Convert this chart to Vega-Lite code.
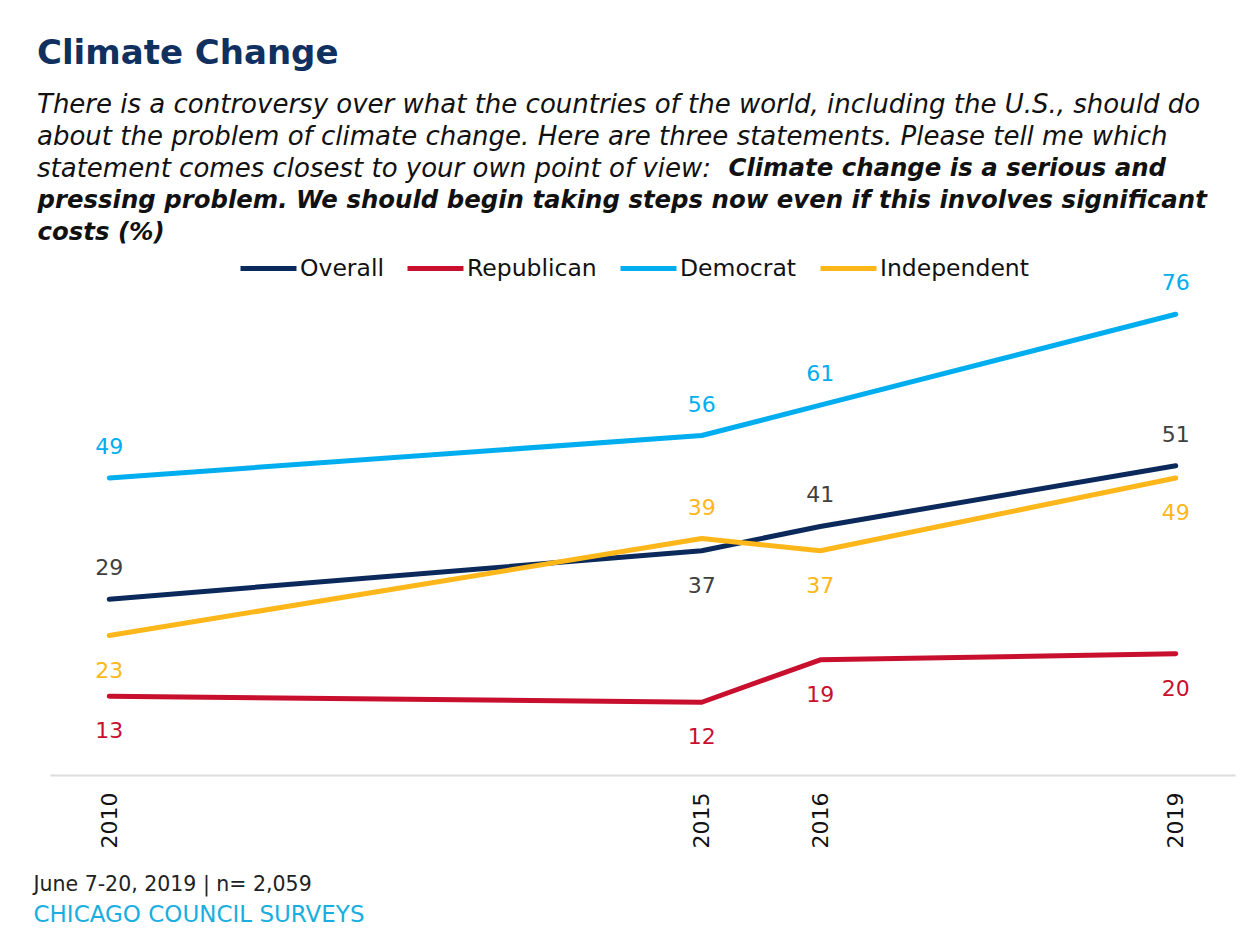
{
  "$schema": "https://vega.github.io/schema/vega-lite/v6.json",
  "width": 1185,
  "height": 485,
  "autosize": {"type": "none"},
  "padding": {"left": 50, "top": 290, "right": 13, "bottom": 153},
  "background": "white",
  "config": {"view": {"stroke": null}, "font": "DejaVu Sans"},
  "title": {
    "text": "Climate Change",
    "subtitle": [
      "There is a controversy over what the countries of the world, including the U.S., should do",
      "about the problem of climate change. Here are three statements. Please tell me which",
      "statement comes closest to your own point of view:"
    ],
    "anchor": "start",
    "frame": "group",
    "orient": "top",
    "dx": -13,
    "offset": -27,
    "font": "DejaVu Sans",
    "fontSize": 34,
    "fontWeight": "bold",
    "color": "#10305f",
    "subtitleFont": "DejaVu Sans",
    "subtitleFontSize": 26,
    "subtitleFontStyle": "italic",
    "subtitleColor": "#111111",
    "subtitleLineHeight": 32,
    "subtitlePadding": 21
  },
  "data": {
    "values": [
      {"series": "Overall", "year": 2010, "value": 29, "pos": "above"},
      {"series": "Overall", "year": 2015, "value": 37, "pos": "below"},
      {"series": "Overall", "year": 2016, "value": 41, "pos": "above"},
      {"series": "Overall", "year": 2019, "value": 51, "pos": "above"},
      {"series": "Republican", "year": 2010, "value": 13, "pos": "below"},
      {"series": "Republican", "year": 2015, "value": 12, "pos": "below"},
      {"series": "Republican", "year": 2016, "value": 19, "pos": "below"},
      {"series": "Republican", "year": 2019, "value": 20, "pos": "below"},
      {"series": "Democrat", "year": 2010, "value": 49, "pos": "above"},
      {"series": "Democrat", "year": 2015, "value": 56, "pos": "above"},
      {"series": "Democrat", "year": 2016, "value": 61, "pos": "above"},
      {"series": "Democrat", "year": 2019, "value": 76, "pos": "above"},
      {"series": "Independent", "year": 2010, "value": 23, "pos": "below"},
      {"series": "Independent", "year": 2015, "value": 39, "pos": "above"},
      {"series": "Independent", "year": 2016, "value": 37, "pos": "below"},
      {"series": "Independent", "year": 2019, "value": 49, "pos": "below"}
    ]
  },
  "resolve": {"axis": {"x": "independent", "y": "independent"}},
  "layer": [
    {
      "mark": {"type": "line", "strokeWidth": 5, "strokeCap": "round", "strokeJoin": "round"},
      "encoding": {
        "x": {
          "field": "year", "type": "quantitative",
          "scale": {"domain": [2009.5, 2019.5], "nice": false, "zero": false},
          "axis": {
            "orient": "bottom", "values": [2010, 2015, 2016, 2019], "format": "d",
            "labelAngle": -90, "labelFont": "DejaVu Sans", "labelFontSize": 22, "labelColor": "#111111",
            "labelPadding": 17, "labelFlush": false, "labelOverlap": false,
            "ticks": false, "grid": false, "domainColor": "#dcdcdc", "domainWidth": 2,
            "title": "June 7-20, 2019 | n= 2,059",
            "titleX": -17, "titleY": 115, "titleAngle": 0, "titleAlign": "left", "titleBaseline": "alphabetic",
            "titleFont": "DejaVu Sans", "titleFontSize": 20.5, "titleFontWeight": "normal", "titleColor": "#222222"
          }
        },
        "y": {
          "field": "value", "type": "quantitative",
          "scale": {"domain": [0, 80], "nice": false},
          "axis": {
            "orient": "left", "labels": false, "ticks": false, "domain": false, "grid": false,
            "title": "Climate change is a serious and",
            "titleX": 678, "titleY": -115, "titleAngle": 0, "titleAlign": "left", "titleBaseline": "alphabetic",
            "titleFont": "DejaVu Sans", "titleFontSize": 24.4, "titleFontStyle": "italic", "titleFontWeight": "bold", "titleColor": "#111111"
          }
        },
        "color": {
          "field": "series", "type": "nominal",
          "scale": {"domain": ["Overall", "Republican", "Democrat", "Independent"], "range": ["#0b2a5b", "#c8102e", "#00aeef", "#fdb71a"]},
          "legend": {
            "orient": "none", "legendX": 188, "legendY": -52, "direction": "horizontal", "title": null,
            "symbolType": "stroke", "symbolSize": 3136, "symbolStrokeWidth": 5,
            "labelFont": "DejaVu Sans", "labelFontSize": 23.5, "labelColor": "#111111", "labelOffset": 1,
            "columnPadding": 13, "padding": 0, "labelLimit": 400
          }
        }
      }
    },
    {
      "transform": [{"filter": "datum.pos === 'above'"}],
      "mark": {"type": "text", "font": "DejaVu Sans", "fontSize": 22, "baseline": "alphabetic", "align": "center", "dy": -24},
      "encoding": {
        "x": {
          "field": "year", "type": "quantitative",
          "scale": {"domain": [2009.5, 2019.5], "nice": false, "zero": false},
          "axis": {
            "orient": "top", "labels": false, "ticks": false, "domain": false, "grid": false,
            "title": "CHICAGO COUNCIL SURVEYS",
            "titleX": -17, "titleY": 631, "titleAngle": 0, "titleAlign": "left", "titleBaseline": "alphabetic",
            "titleFont": "DejaVu Sans", "titleFontSize": 23, "titleFontWeight": "normal", "titleColor": "#1aaee0"
          }
        },
        "y": {
          "field": "value", "type": "quantitative",
          "scale": {"domain": [0, 80], "nice": false},
          "axis": {
            "orient": "right", "labels": false, "ticks": false, "domain": false, "grid": false,
            "title": ["pressing problem. We should begin taking steps now even if this involves significant", "costs (%)"],
            "titleX": -1198, "titleY": -83, "titleAngle": 0, "titleAlign": "left", "titleBaseline": "alphabetic", "titleLineHeight": 32,
            "titleFont": "DejaVu Sans", "titleFontSize": 24.4, "titleFontStyle": "italic", "titleFontWeight": "bold", "titleColor": "#111111"
          }
        },
        "text": {"field": "value", "type": "quantitative", "format": "d"},
        "color": {
          "condition": {"test": "datum.series === 'Overall'", "value": "#404040"},
          "field": "series", "type": "nominal", "legend": null
        }
      }
    },
    {
      "transform": [{"filter": "datum.pos === 'below'"}],
      "mark": {"type": "text", "font": "DejaVu Sans", "fontSize": 22, "baseline": "alphabetic", "align": "center", "dy": 42},
      "encoding": {
        "x": {"field": "year", "type": "quantitative", "scale": {"domain": [2009.5, 2019.5], "nice": false, "zero": false}, "axis": null},
        "y": {"field": "value", "type": "quantitative", "scale": {"domain": [0, 80], "nice": false}, "axis": null},
        "text": {"field": "value", "type": "quantitative", "format": "d"},
        "color": {
          "condition": {"test": "datum.series === 'Overall'", "value": "#404040"},
          "field": "series", "type": "nominal", "legend": null
        }
      }
    }
  ]
}
